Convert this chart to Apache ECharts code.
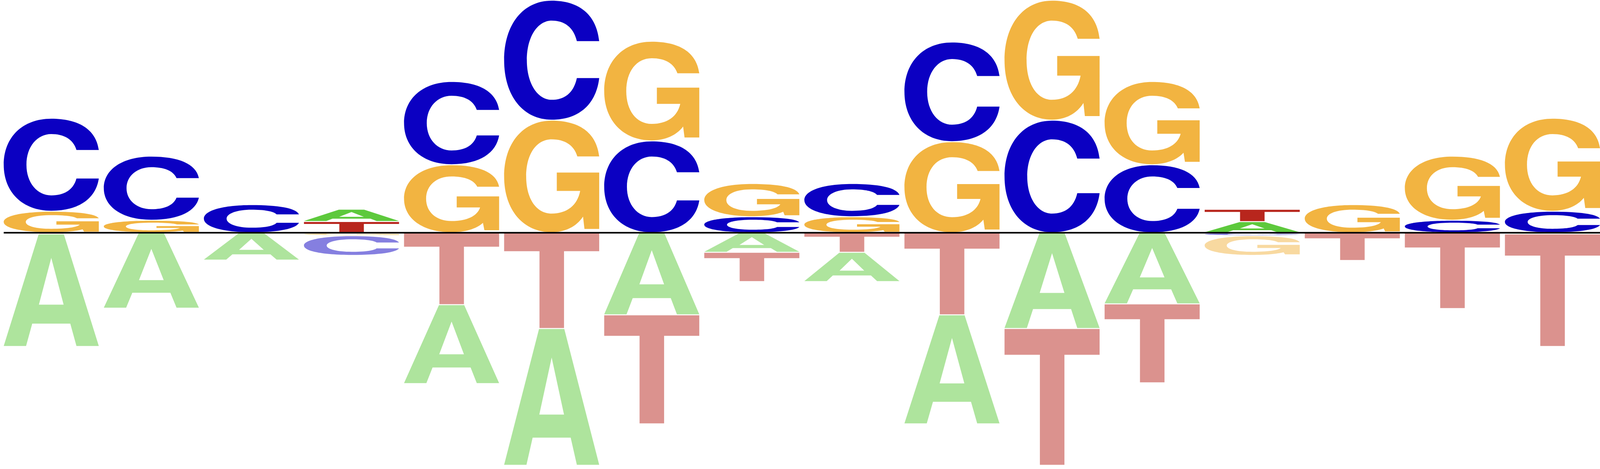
<!DOCTYPE html>
<html>
<head>
<meta charset="utf-8">
<script src="https://cdn.jsdelivr.net/npm/echarts@6/dist/echarts.min.js"></script>
<style>
  html, body { margin: 0; padding: 0; background: #ffffff; overflow: hidden; width: 100%; height: 100%; }
  #chart { width: 100vw; height: 100vh; }
</style>
</head>
<body>
<div id="chart"></div>
<script>
// ---- data (letter heights per position, above / below the baseline) ----
const positions = [1, 2, 3, 4, 5, 6, 7, 8, 9, 10, 11, 12, 13, 14, 15, 16];
const letters = ['A', 'C', 'G', 'T'];

const posA = [0, 0, 0, 0.315, 0, 0, 0, 0, 0, 0, 0, 0, 0.285, 0, 0, 0];
const posC = [2.38, 1.64, 0.72, 0, 2.13, 3.07, 2.35, 0.41, 0.85, 2.55, 2.88, 1.74, 0, 0, 0.32, 0.55];
const posG = [0.55, 0.32, 0, 0, 1.74, 2.88, 2.55, 0.85, 0.41, 2.33, 3.07, 2.13, 0, 0.72, 1.64, 2.38];
const posT = [0, 0, 0, 0.288, 0, 0, 0, 0, 0, 0, 0, 0, 0.315, 0, 0, 0];

const negA = [2.88, 1.93, 0.70, 0, 2.02, 3.50, 2.10, 0.50, 0.75, 2.79, 2.45, 1.82, 0, 0, 0, 0.03];
const negC = [0, 0, 0, 0.505, 0, 0, 0, 0, 0, 0, 0, 0, 0.075, 0, 0, 0];
const negG = [0, 0, 0, 0.075, 0, 0, 0, 0, 0, 0, 0, 0, 0.505, 0, 0, 0];
const negT = [0.03, 0, 0, 0, 1.84, 2.45, 2.79, 0.75, 0.50, 2.10, 3.50, 2.02, 0, 0.71, 1.94, 2.88];

const letterColors = { A: '#5dc93c', C: '#0b00c2', G: '#f2b441', T: '#b8261d' };

// ---- glyph outlines in a unit box (x right, y down) ----
const GLYPHS = {
  A: [['M',0,1],['L',0.367,0],['L',0.633,0],['L',1,1],['L',0.765,1],['L',0.70,0.80],['L',0.30,0.80],['L',0.235,1],['Z'],
      ['M',0.37,0.63],['L',0.63,0.63],['L',0.5,0.21],['Z']],
  T: [['M',0,0],['L',1,0],['L',1,0.19],['L',0.63,0.19],['L',0.63,1],['L',0.372,1],['L',0.372,0.19],['L',0,0.19],['Z']],
  C: [['M',1,0.34],['C',0.97,0.11,0.78,0,0.5,0],['C',0.2,0,0,0.2,0,0.5],['C',0,0.8,0.2,1,0.5,1],
      ['C',0.8,1,0.97,0.86,1,0.65],['L',0.765,0.65],
      ['C',0.73,0.78,0.63,0.833,0.5,0.833],['C',0.355,0.833,0.239,0.70,0.239,0.5],
      ['C',0.239,0.30,0.355,0.167,0.5,0.167],['C',0.63,0.167,0.73,0.22,0.765,0.34],['Z']],
  G: [['M',1,0.32],['C',0.97,0.1,0.78,0,0.5,0],['C',0.2,0,0,0.2,0,0.5],['C',0,0.8,0.2,1,0.5,1],
      ['C',0.64,1,0.76,0.95,0.83,0.86],['L',0.845,0.97],['L',1,0.97],['L',1,0.465],['L',0.554,0.465],
      ['L',0.554,0.63],['L',0.80,0.63],['C',0.77,0.76,0.66,0.833,0.5,0.833],
      ['C',0.34,0.833,0.232,0.70,0.232,0.5],['C',0.232,0.30,0.34,0.167,0.5,0.167],
      ['C',0.64,0.167,0.735,0.22,0.77,0.32],['Z']]
};

const HALF_W = 0.475;        // half letter width in column units
const X_MIN = -0.5122;       // axis extent so that columns sit where the reference has them
const X_MAX = 15.475;
const Y_MIN = -6.045;
const Y_MAX = 5.955;

const posSets = { A: posA, C: posC, G: posG, T: posT };
const negSets = { A: negA, C: negC, G: negG, T: negT };

// build stacked items: [x, yFrom, yTo, letterIndex, isNegative]
const items = [];
positions.forEach(function (p, i) {
  const up = letters.map(function (l, k) { return { k: k, h: posSets[l][i] }; })
    .filter(function (o) { return o.h > 0; })
    .sort(function (a, b) { return a.h - b.h; });
  let acc = 0;
  up.forEach(function (o) { items.push([i, acc, acc + o.h, o.k, 0]); acc += o.h; });
  const dn = letters.map(function (l, k) { return { k: k, h: negSets[l][i] }; })
    .filter(function (o) { return o.h > 0; })
    .sort(function (a, b) { return a.h - b.h; });
  acc = 0;
  dn.forEach(function (o) { items.push([i, -acc, -(acc + o.h), o.k, 1]); acc += o.h; });
});

function glyphPath(g, L, T, W, H) {
  return g.map(function (c) {
    if (c[0] === 'Z') return 'Z';
    let s = c[0];
    for (let k = 1; k < c.length; k += 2) {
      s += ' ' + (L + c[k] * W).toFixed(2) + ' ' + (T + c[k + 1] * H).toFixed(2);
    }
    return s;
  }).join(' ');
}

function renderLetter(params, api) {
  const x = Number(api.value(0)), y0 = Number(api.value(1)), y1 = Number(api.value(2));
  const li = Number(api.value(3)), neg = Number(api.value(4));
  const a = api.coord([x - HALF_W, y0]);
  const b = api.coord([x + HALF_W, y1]);
  let top = Math.min(a[1], b[1]), bottom = Math.max(a[1], b[1]);
  const pad = Math.min(1.3, (bottom - top) * 0.25);
  top += pad; bottom -= pad;
  const L = Math.min(a[0], b[0]), W = Math.abs(b[0] - a[0]);
  const letter = letters[li];
  return {
    type: 'path',
    shape: { pathData: glyphPath(GLYPHS[letter], L, top, W, bottom - top) },
    style: { fill: letterColors[letter], opacity: neg ? 0.5 : 1 }
  };
}

const chart = echarts.init(document.getElementById('chart'));
chart.setOption({
  animation: false,
  backgroundColor: '#ffffff',
  grid: { left: 0, top: 0, right: 0, bottom: 0, containLabel: false },
  xAxis: { type: 'value', min: X_MIN, max: X_MAX, show: false },
  yAxis: { type: 'value', min: Y_MIN, max: Y_MAX, show: false },
  series: [
    {
      type: 'custom',
      renderItem: renderLetter,
      data: items,
      encode: { x: 0, y: [1, 2] },
      clip: false,
      z: 2
    },
    {
      type: 'line',
      data: [[-HALF_W, 0], [X_MAX, 0]],
      symbol: 'none',
      lineStyle: { color: '#000000', width: 4 },
      z: 5,
      silent: true
    }
  ]
});
window.addEventListener('resize', function () { chart.resize(); });
</script>
</body>
</html>
